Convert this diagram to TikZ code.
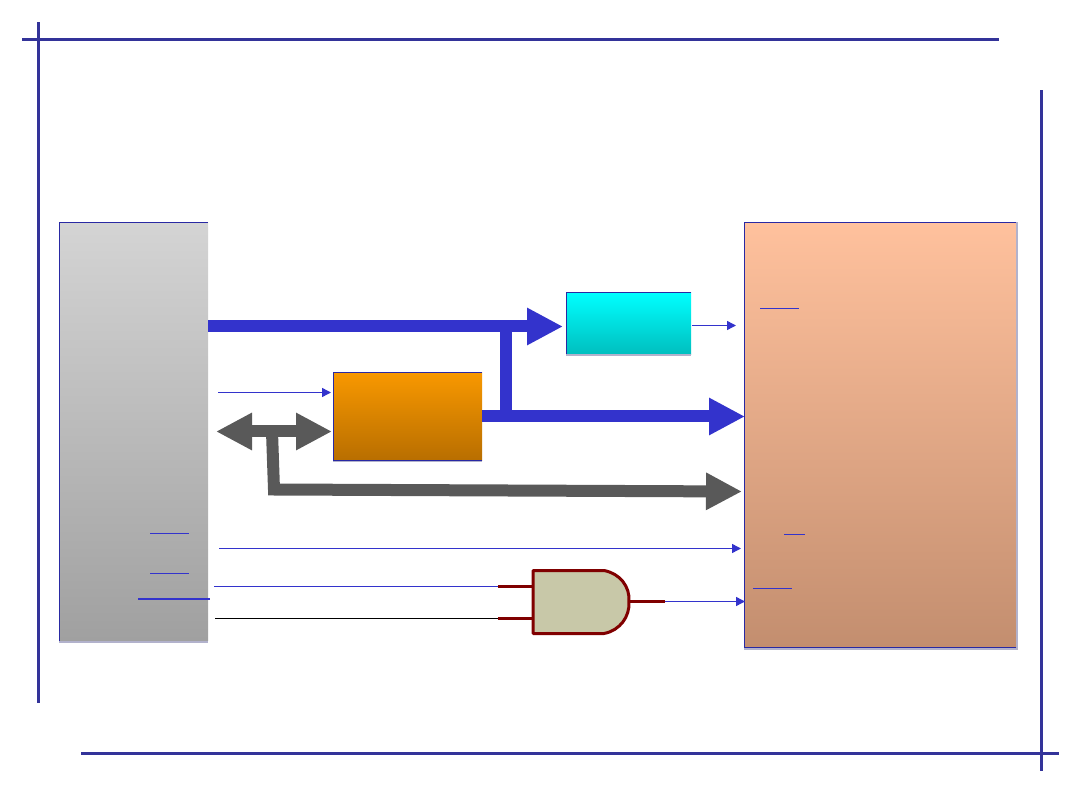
\documentclass[tikz,border=0pt]{standalone}
\usepackage{xcolor}
\usetikzlibrary{positioning, calc, arrows.meta}
\definecolor{busBlue}{RGB}{51,51,204}
\definecolor{frameBlue}{RGB}{51,51,153}
\definecolor{busGray}{RGB}{89,89,89}
\definecolor{gateRed}{RGB}{128,0,0}
\definecolor{gateFill}{RGB}{200,200,168}
\definecolor{shadowGray}{RGB}{178,178,204}
\tikzset{
    block/.style={
        rectangle,
        anchor=north west,
        inner sep=0pt,
        outer sep=0pt
    },
    frameLine/.style={frameBlue, line width=3pt},
    edgeLine/.style={busBlue!80!black, line width=1pt},
    shadowLine/.style={shadowGray, line width=2pt},
    bigBus/.style={
        line width=12pt,
        -{Triangle[length=36pt,width=35pt]}
    },
    wire/.style={
        busBlue,
        line width=1.4pt,
        -{Triangle[length=9pt,width=9pt]}
    },
    plainWire/.style={busBlue, line width=1.3pt},
    barLine/.style={busBlue, line width=1.3pt},
    pin/.style={gateRed, line width=3pt}
}

\begin{document}
\begin{tikzpicture}[x=1pt, y=-1pt]
    \useasboundingbox (0,-0.5) rectangle (1080,809.5);

    % Slide frame
    \draw[frameLine] (22,39) -- (999,39);
    \draw[frameLine] (38.5,22) -- (38.5,702);
    \draw[frameLine] (1041,90) -- (1041,770);
    \draw[frameLine] (81,753) -- (1059,753);

    % Blocks
    \node[block, minimum width=149pt, minimum height=418pt, top color={rgb,255:red,212;green,212;blue,212}, bottom color={rgb,255:red,160;green,160;blue,160}] (cpu) at (59,222) {};
    \node[block, minimum width=149pt, minimum height=88pt, top color={rgb,255:red,248;green,152;blue,0}, bottom color={rgb,255:red,184;green,110;blue,0}] (latch) at (333,372) {};
    \node[block, minimum width=125pt, minimum height=62pt, top color={rgb,255:red,0;green,255;blue,255}, bottom color={rgb,255:red,0;green,190;blue,190}] (decoder) at (566,292) {};
    \node[block, minimum width=272pt, minimum height=425pt, top color={rgb,255:red,255;green,193;blue,157}, bottom color={rgb,255:red,195;green,142;blue,111}] (memory) at (744,222) {};

    % Block edges
    \draw[shadowLine] ([yshift=-1pt]cpu.south west) -- ([yshift=-1pt]cpu.south east);
    \draw[shadowLine] ([yshift=-1pt]latch.south west) -- ([yshift=-1pt]latch.south east);
    \draw[shadowLine] ([yshift=-1pt]decoder.south west) -- ([yshift=-1pt]decoder.south east);
    \draw[shadowLine] ([yshift=-1pt]memory.south west) -- ([yshift=-1pt,xshift=1pt]memory.south east) -- ([xshift=1pt]memory.north east);
    \draw[edgeLine] (cpu.south west) -- (cpu.north west) -- (cpu.north east);
    \draw[edgeLine] (latch.south east) -- (latch.south west) -- (latch.north west) -- (latch.north east);
    \draw[edgeLine] (decoder.south west) -- (decoder.north west) -- (decoder.north east);
    \draw[edgeLine] (memory.south east) -- (memory.south west) -- (memory.north west) -- (memory.north east);

    % Free ends of the connectors
    \coordinate (addrStart) at (208,326);
    \coordinate (addrEnd) at (563,326);
    \coordinate (branchTop) at (506,326);
    \coordinate (branchBottom) at (506,416);
    \coordinate (latchOut) at (482,416);
    \coordinate (memAddr) at (745,416);
    \coordinate (dataLeft) at (216,431);
    \coordinate (dataRight) at (332,431);
    \coordinate (dataTap) at (272,431);
    \coordinate (dataCorner) at (274,489);
    \coordinate (memData) at (742,491);
    \coordinate (aleStart) at (218,392);
    \coordinate (aleEnd) at (331,392);
    \coordinate (decOut) at (692,325);
    \coordinate (decEnd) at (736,325);
    \coordinate (wrStart) at (219,548);
    \coordinate (wrEnd) at (741,548);
    \coordinate (rdStart) at (214,586);
    \coordinate (psenStart) at (215,618);
    \coordinate (pinA) at (498,586);
    \coordinate (pinB) at (498,618);
    \coordinate (gateOut) at (665,601);
    \coordinate (oeEnd) at (745,601);

    % Address bus
    \draw[bigBus, busBlue] (addrStart) -- (addrEnd);
    \draw[busBlue, line width=12pt] (branchTop) -- (branchBottom);
    \draw[bigBus, busBlue] (latchOut) -- (memAddr);

    % Data bus
    \draw[busGray, line width=12pt, {Triangle[length=36pt,width=35pt]}-{Triangle[length=36pt,width=35pt]}] (dataLeft) -- (dataRight);
    \draw[bigBus, busGray] (dataTap) -- (dataCorner) -- (memData);

    % Control lines
    \draw[wire] (aleStart) -- (aleEnd);
    \draw[wire] (decOut) -- (decEnd);
    \draw[wire] (wrStart) -- (wrEnd);
    \draw[plainWire] (rdStart) -- (pinA);
    \draw[black, line width=1.3pt] (psenStart) -- (pinB);

    % AND gate
    \draw[pin] (pinA) -- (533,586);
    \draw[pin] (pinB) -- (533,618);
    \draw[pin] (630,601) -- (gateOut);
    \draw[gateRed, fill=gateFill, line width=3pt, line join=round] (533,570) -- (604,570) .. controls (620,573) and (630,586) .. (629,601) .. controls (630,616) and (620,630) .. (604,633) -- (533,633) -- cycle;
    \draw[wire] (gateOut) -- (oeEnd);

    % Overbars
    \draw[barLine] (150,533) -- (189,533);
    \draw[barLine] (150,573) -- (189,573);
    \draw[barLine, line width=2pt] (138,598) -- (210,598);
    \draw[barLine] (760,308) -- (799,308);
    \draw[barLine] (784,534) -- (805,534);
    \draw[barLine] (753,588) -- (792,588);
\end{tikzpicture}
\end{document}
